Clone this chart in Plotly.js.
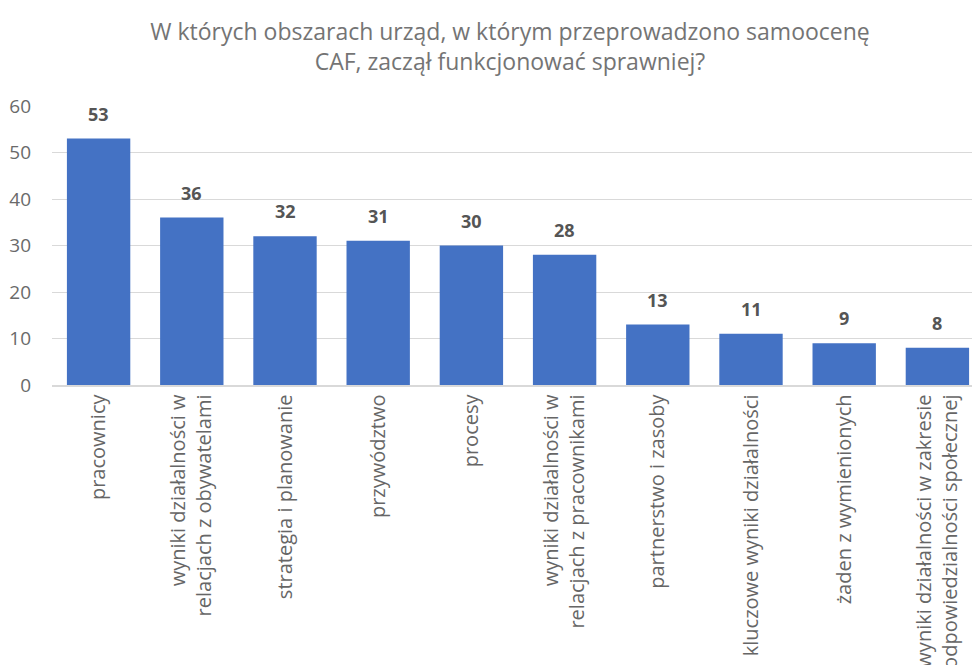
<!DOCTYPE html>
<html><head><meta charset="utf-8">
<script src="https://cdn.plot.ly/plotly-3.0.1.min.js"></script>
<style>html,body{margin:0;padding:0;overflow:hidden;background:#fff}</style>
</head><body>
<div id="chart" style="width:984px;height:665px"></div>
<script>
const categories = [
  "pracownicy",
  "wyniki działalności w<br>relacjach z obywatelami",
  "strategia i planowanie",
  "przywództwo",
  "procesy",
  "wyniki działalności w<br>relacjach z pracownikami",
  "partnerstwo i zasoby",
  "kluczowe wyniki działalności",
  "żaden z wymienionych",
  "wyniki działalności w zakresie<br>odpowiedzialności społecznej"
];
const values = [53, 36, 32, 31, 30, 28, 13, 11, 9, 8];
const yTicks = [0, 10, 20, 30, 40, 50, 60];
const titleText = "W których obszarach urząd, w którym przeprowadzono samoocenę<br>CAF, zaczął funkcjonować sprawniej?";

const FONT = "'Open Sans', 'Noto Sans', sans-serif";
const trace = {
  type: 'bar', x: categories, y: values,
  marker: {color: '#4472C4'}, hoverinfo: 'none'
};
const annotations = categories.map((c, i) => ({
  x: c, y: values[i], xref: 'x', yref: 'y', text: '<b>' + values[i] + '</b>',
  showarrow: false, yanchor: 'bottom', yshift: 11,
  font: {family: FONT, size: 18, color: '#555555'}
}));
const layout = {
  width: 984, height: 665,
  margin: {l: 52, r: 0, t: 106, b: 280},
  paper_bgcolor: '#fff', plot_bgcolor: '#fff',
  showlegend: false, bargap: 0.32,
  title: {text: titleText, x: 510/984, xanchor: 'center', xref: 'container', y: 0.94, yanchor: 'top',
    font: {family: FONT, size: 23, color: '#747474'}},
  xaxis: {type: 'category', tickangle: -90, ticks: '', showgrid: false,
    showline: true, linecolor: '#d9d9d9', linewidth: 1.5,
    tickfont: {family: FONT, size: 20, color: '#666666'}, automargin: false},
  yaxis: {range: [0, 60], tickvals: yTicks, ticktext: yTicks.map(String), showgrid: true,
    gridcolor: '#d9d9d9', gridwidth: 1, zeroline: false, showline: false, ticks: '',
    tickfont: {family: FONT, size: 19, color: '#6a6a6a'}, ticklabelstandoff: 20, automargin: false},
  annotations: annotations
};
Plotly.newPlot('chart', [trace], layout, {displayModeBar: false, staticPlot: true});
</script>
</body></html>
